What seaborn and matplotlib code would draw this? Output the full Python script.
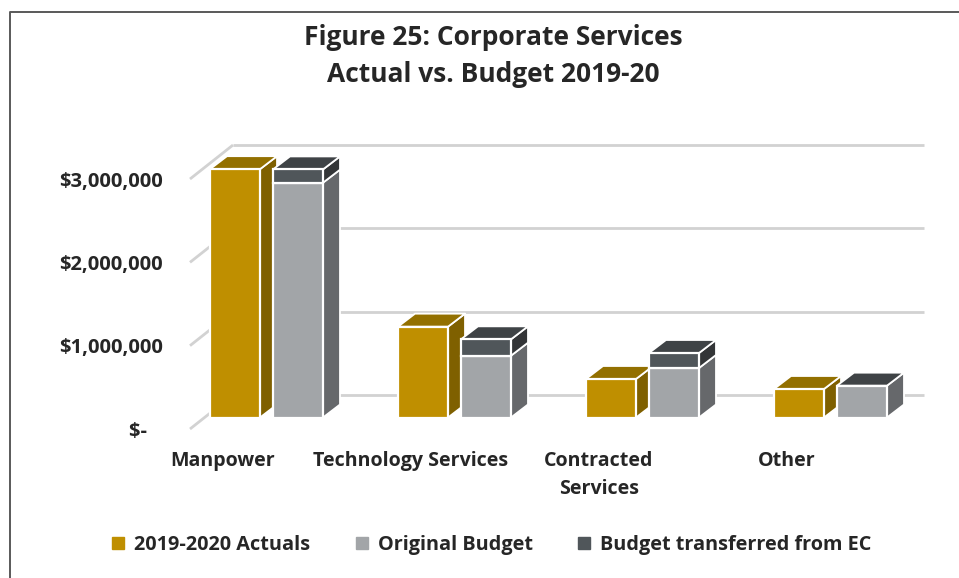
import matplotlib
matplotlib.use("Agg")
import matplotlib.pyplot as plt
from matplotlib.patches import Polygon, Patch
from matplotlib.lines import Line2D
import pandas as pd
import seaborn as sns

categories = ["Manpower", "Technology Services", "Contracted\nServices", "Other"]
actuals = [2980000, 1090000, 462000, 342000]
original_budget = [2818000, 742000, 594000, 382000]
transferred = [159000, 196000, 180000, 0]
y_ticks = [0, 1000000, 2000000, 3000000]
y_tick_labels = ["$-   ", "$1,000,000", "$2,000,000", "$3,000,000"]
series_names = ["2019-2020 Actuals", "Original Budget", "Budget transferred from EC"]
title = "Figure 25: Corporate Services\nActual vs. Budget 2019-20"

W, H = 959, 578
FONT = ["Open Sans", "DejaVu Sans"]
TXT = "#262626"
GOLD, GOLD_TOP, GOLD_SIDE = "#BF8F00", "#937000", "#7F6000"
GRAY, GRAY_SIDE = "#A2A5A8", "#66686B"
DARK, DARK_TOP, DARK_SIDE = "#50565A", "#3F4346", "#333537"
GRID = "#D2D2D2"

sns.set_theme(style="white")
plt.rcParams["font.family"] = FONT
fig = plt.figure(figsize=(W / 100, H / 100), dpi=100, facecolor="white")

L, R, T, B = 170, 930, 130, 445
ax = fig.add_axes([L / W, 1 - B / H, (R - L) / W, (B - T) / H])
PX_X, PX_Y = 188.0, 83.33 / 1e6
X0, Y0 = 266.5, 417.5
ax.set_xlim((L - X0) / PX_X, (R - X0) / PX_X)
ax.set_ylim((Y0 - B) / PX_Y, (Y0 - T) / PX_Y)

df = pd.DataFrame({
    "category": categories * 2,
    "series": [series_names[0]] * 4 + [series_names[1]] * 4,
    "value": actuals + original_budget,
})
xl, yl = ax.get_xlim(), ax.get_ylim()
sns.barplot(data=df, x="category", y="value", hue="series", ax=ax, order=categories,
            hue_order=series_names[:2], palette=[GOLD, GRAY], width=0.67, gap=0.206,
            legend=False, saturation=1, errorbar=None, edgecolor="white", linewidth=1.6)
ax.set_xlim(xl); ax.set_ylim(yl)
ax.set_xlabel(""); ax.set_ylabel("")

DX, DY = 17 / PX_X, 13 / PX_Y
EDGE = dict(edgecolor="white", linewidth=1.3, joinstyle="round")

def face(points, color, z):
    ax.add_patch(Polygon(points, closed=True, facecolor=color, zorder=z, **EDGE))

def box_sides(x1, y0, y1, side, z):
    face([(x1, y0), (x1 + DX, y0 + DY), (x1 + DX, y1 + DY), (x1, y1)], side, z)

def box_top(x0, x1, y, top, z):
    face([(x0, y), (x1, y), (x1 + DX, y + DY), (x0 + DX, y + DY)], top, z)

for cont, is_budget, zb in zip(ax.containers, [False, True], [10, 20]):
    for i, p in enumerate(cont.patches):
        x0, x1 = p.get_x(), p.get_x() + p.get_width()
        z = zb + 40 * i
        h = p.get_height()
        p.set_zorder(z + 2)
        if not is_budget:
            box_sides(x1, 0, h, GOLD_SIDE, z)
            box_top(x0, x1, h, GOLD_TOP, z)
        else:
            extra = transferred[i]
            box_sides(x1, 0, h, GRAY_SIDE, z)
            if extra:
                box_sides(x1, h, h + extra, DARK_SIDE, z)
                ax.bar(x0, extra, bottom=h, width=x1 - x0, align="edge", color=DARK,
                       edgecolor="white", linewidth=1.6, zorder=z + 2)
            box_top(x0, x1, h + extra, DARK_TOP, z)

GX0, GX1 = (233 - X0) / PX_X, (924 - X0) / PX_X
TX0 = (190 - X0) / PX_X
BACK, FRONT = 22.5 / PX_Y, -11.5 / PX_Y
for v in y_ticks:
    ax.plot([GX0, GX1], [v + BACK, v + BACK], color=GRID, lw=2, zorder=1, solid_capstyle="butt")
    ax.plot([TX0, GX0], [v + FRONT, v + BACK], color=GRID, lw=2, zorder=1, solid_capstyle="butt")

sns.despine(ax=ax, left=True, bottom=True)
ax.set_xticks([]); ax.set_yticks([])

# tick labels sit on the front edge of the floor, offset from the bars' own scale
y_shift = 11.5 / PX_Y
sy = ax.secondary_yaxis("left", functions=(lambda y: y + y_shift, lambda y: y - y_shift))
sy.set_yticks(y_ticks, y_tick_labels, fontsize=14.5, fontweight="bold", color=TXT)
sy.tick_params(length=0, pad=5)
sy.spines["left"].set_visible(False)
x_shift = 43.5 / PX_X
sx = ax.secondary_xaxis("bottom", functions=(lambda x: x + x_shift, lambda x: x - x_shift))
sx.set_xticks(range(4), categories, linespacing=1.55, fontsize=14.15, fontweight="bold", color=TXT)
sx.tick_params(length=0, pad=4.5)
sx.spines["bottom"].set_visible(False)

fig.text(493 / W, 1 - 56 / H, title, ha="center", va="center", fontsize=19,
         fontweight="bold", color=TXT, linespacing=1.44)

handles = [Patch(color=c) for c in (GOLD, GRAY, DARK)]
fig.legend(handles, series_names, ncol=3, loc="center", bbox_to_anchor=(492 / W, 1 - 545 / H),
           frameon=False, handlelength=0.6, handleheight=0.6, handletextpad=0.5,
           columnspacing=2.3, prop={"size": 14.3, "weight": "bold"}, labelcolor=TXT)

BORDER = "#595959"
fig.add_artist(Line2D([10 / W, 10 / W, 1], [0, 1 - 12 / H, 1 - 12 / H], transform=fig.transFigure,
                      color=BORDER, linewidth=1.4))
fig.savefig("out.png", dpi=100)
